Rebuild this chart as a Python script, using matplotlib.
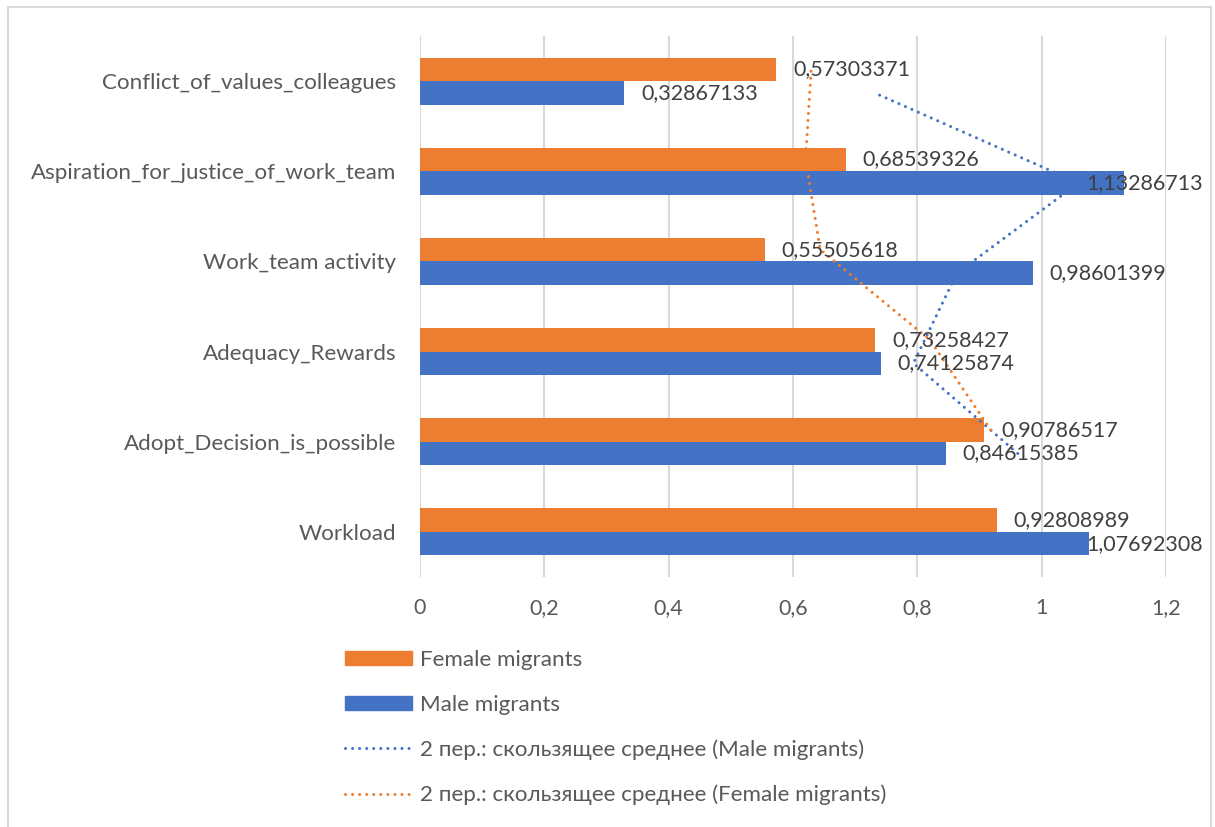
import matplotlib
matplotlib.use("Agg")
import matplotlib.pyplot as plt
import numpy as np
import pandas as pd
from matplotlib.patches import Patch, Rectangle
from matplotlib.lines import Line2D

# Categories listed bottom to top
categories = [
    "Workload",
    "Adopt_Decision_is_possible",
    "Adequacy_Rewards",
    "Work_team activity",
    "Aspiration_for_justice_of_work_team",
    "Conflict_of_values_colleagues",
]
female = [0.92808989, 0.90786517, 0.73258427, 0.55505618, 0.68539326, 0.57303371]
male = [1.07692308, 0.84615385, 0.74125874, 0.98601399, 1.13286713, 0.32867133]
x_ticks = [0, 0.2, 0.4, 0.6, 0.8, 1.0, 1.2]

ORANGE = "#ED7D31"
BLUE = "#4472C4"
GRID = "#D9D9D9"
TXT = "#595959"
LBL = "#404040"
FONT = "Lato"
FS = 15.5       # value labels and x ticks
FS_CAT = 16.1   # category labels
FS_LEG = 16.1   # legend

plt.rcParams["font.family"] = [FONT, "DejaVu Sans"]

W, H = 1215, 827
fig = plt.figure(figsize=(W / 100, H / 100), dpi=100)
ax = fig.add_axes([420 / W, 1 - 577 / H, (1166 - 420) / W, (577 - 36) / H])

pos = np.arange(len(categories))
bh = 0.26
off = bh / 2
ax.barh(pos + off, female, height=bh, color=ORANGE, zorder=2)
ax.barh(pos - off, male, height=bh, color=BLUE, zorder=2)

# 2-period moving averages drawn through each series' bar positions
ma_female = pd.Series(female).rolling(2).mean().to_numpy()
ma_male = pd.Series(male).rolling(2).mean().to_numpy()
dot = dict(linestyle=(0, (0.01, 2.3)), linewidth=2.2, dash_capstyle="round", zorder=4)
ax.plot(ma_male[1:], pos[1:] - off, color=BLUE, **dot)
ax.plot(ma_female[1:], pos[1:] + off, color=ORANGE, **dot)

ax.set_xlim(0, 1.2)
ax.set_ylim(-0.5, len(categories) - 0.5)
ax.set_xticks(x_ticks)
ax.set_xticklabels([f"{t:g}".replace(".", ",") for t in x_ticks])
ax.set_yticks(pos)
ax.set_yticklabels(categories)
ax.tick_params(axis="both", length=0, colors=TXT)
ax.tick_params(axis="x", pad=15, labelsize=FS)
ax.tick_params(axis="y", pad=17, labelsize=FS_CAT)
for s in ax.spines.values():
    s.set_visible(False)
ax.grid(axis="x", color=GRID, linewidth=1.5, zorder=0)
ax.set_axisbelow(True)

# value labels at bar ends
labels = []
for vals, dy in ((female, off), (male, -off)):
    for p, v in zip(pos, vals):
        t = ax.annotate(f"{v:.8f}".replace(".", ","), xy=(v, p + dy), xytext=(12, 0),
                        textcoords="offset points", ha="left", va="center",
                        fontsize=FS, color=LBL, zorder=5)
        labels.append(t)

fig.canvas.draw()
renderer = fig.canvas.get_renderer()
right_limit = 1203
for t in labels:
    bb = t.get_window_extent(renderer)
    if bb.x1 > right_limit:
        shift = (bb.x1 - right_limit) * 72 / fig.dpi
        x0, y0 = t.xyann
        t.xyann = (x0 - shift, y0)

handles = [
    Patch(color=ORANGE, label="Female migrants"),
    Patch(color=BLUE, label="Male migrants"),
    Line2D([], [], color=BLUE, label="2 пер.: скользящее среднее (Male migrants)", **dot),
    Line2D([], [], color=ORANGE, label="2 пер.: скользящее среднее (Female migrants)", **dot),
]
fs_px = FS_LEG * 100 / 72
leg = fig.legend(handles=handles, loc="upper left", bbox_to_anchor=(345 / W, 1 - 650 / H),
                 frameon=False, fontsize=FS_LEG, handlelength=67 / fs_px,
                 handleheight=13 / fs_px, handletextpad=8 / fs_px, labelspacing=1.1,
                 borderpad=0, borderaxespad=0)
for txt in leg.get_texts():
    txt.set_color(TXT)

# outer chart frame
fig.add_artist(Rectangle((8 / W, -0.05), (1211 - 8) / W, 1.05 - 7 / H,
                         transform=fig.transFigure, fill=False, edgecolor=GRID, linewidth=1.5))

fig.savefig("out.png", dpi=100)
